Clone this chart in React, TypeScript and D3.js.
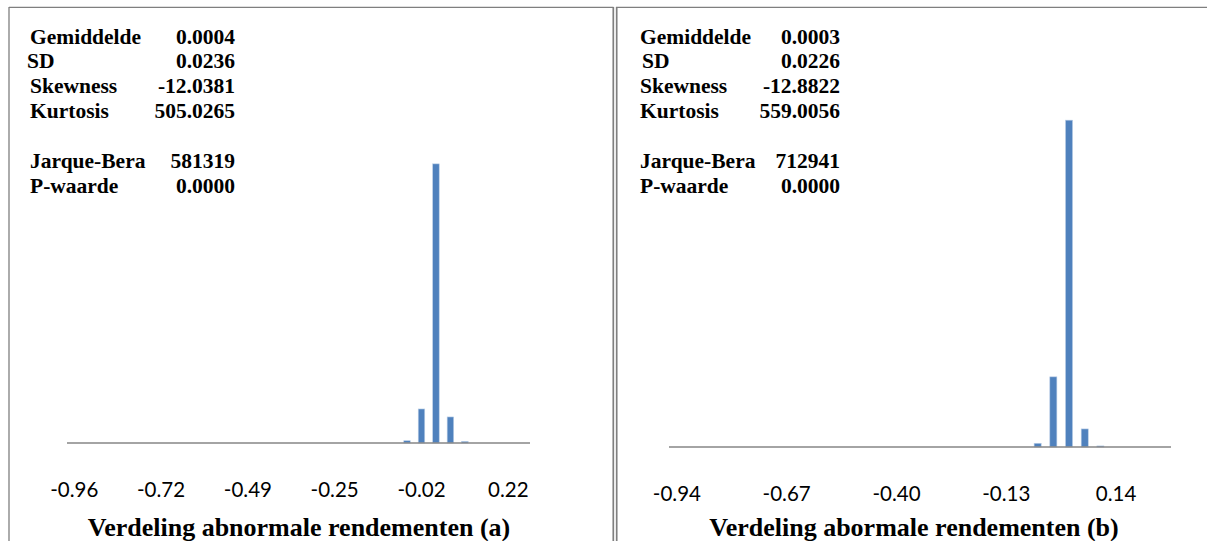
import React from "react";
import * as d3 from "d3";

// ---------- DATA ----------
const binsA = ["-0.96","-0.92","-0.88","-0.84","-0.80","-0.76","-0.72","-0.68","-0.65","-0.61","-0.57","-0.53","-0.49","-0.45","-0.41","-0.37","-0.33","-0.29","-0.25","-0.21","-0.17","-0.13","-0.09","-0.06","-0.02","0.02","0.06","0.10","0.14","0.18","0.22","0.26"];
const countsA = [0,0,0,0,0,0,0,0,0,0,0,0,0,0,0,0,0,0,0,0,0,0,0,43,640,5250,490,30,0,0,0,0];

const binsB = ["-0.94","-0.90","-0.86","-0.82","-0.79","-0.75","-0.71","-0.67","-0.63","-0.59","-0.55","-0.52","-0.48","-0.44","-0.40","-0.36","-0.32","-0.28","-0.25","-0.21","-0.17","-0.13","-0.09","-0.05","-0.01","0.02","0.06","0.10","0.14","0.18","0.22","0.26"];
const countsB = [0,0,0,0,0,0,0,0,0,0,0,0,0,0,0,0,0,0,0,0,0,0,0,70,1320,6150,340,20,0,0,0,0];

const statLabels = ["Gemiddelde", "SD", "Skewness", "Kurtosis", "", "Jarque-Bera", "P-waarde"];
const statValuesA = ["0.0004", "0.0236", "-12.0381", "505.0265", "", "581319", "0.0000"];
const statValuesB = ["0.0003", "0.0226", "-12.8822", "559.0056", "", "712941", "0.0000"];

const titleA = "Verdeling abnormale rendementen (a)";
const titleB = "Verdeling abormale rendementen (b)";

// ---------- LAYOUT ----------
const W = 1207;
const H = 541;
const BAR = "#4F81BD";
const AXIS = "#868686";
const BORDER = "#7f7f7f";
const SERIF = "'Liberation Serif', 'Times New Roman', serif";

type PanelProps = {
  bins: string[];
  counts: number[];
  yMax: number;
  x0: number;
  x1: number;
  axisY: number;
  plotTop: number;
  tickEvery: number;
  values: string[];
  labelX: number;
  valueX: number;
  sdShift: number;
  title: string;
  titleX: number;
};

function Panel(p: PanelProps) {
  const x = d3.scaleBand<string>().domain(p.bins).range([p.x0, p.x1]).paddingInner(0.55).paddingOuter(0.275);
  const xc = d3.scaleBand<string>().domain(p.bins).range([p.x0, p.x1]);
  const y = d3.scaleLinear().domain([0, p.yMax]).range([p.axisY, p.plotTop]);
  const rowY = [44, 68, 93, 118, 143, 168, 193];
  return (
    <g>
      {statLabels.map((l, i) =>
        l ? (
          <g key={i}>
            <text x={p.labelX + (i === 1 ? p.sdShift : 0)} y={rowY[i]} fontFamily={SERIF} fontWeight="bold" fontSize={21.5} fill="#000">{l}</text>
            <text x={p.valueX} y={rowY[i]} textAnchor="end" fontFamily={SERIF} fontWeight="bold" fontSize={21.5} fill="#000">{p.values[i]}</text>
          </g>
        ) : null
      )}
      {p.bins.map((b, i) =>
        p.counts[i] > 0 ? (
          <rect key={b} x={x(b)} y={y(p.counts[i])} width={x.bandwidth()} height={p.axisY - y(p.counts[i])} fill={BAR} stroke="#b9cde6" strokeWidth={0.6} />
        ) : null
      )}
      <line x1={p.x0} x2={p.x1} y1={p.axisY} y2={p.axisY} stroke={AXIS} strokeWidth={1.6} />
      {p.bins.map((b, i) =>
        i % p.tickEvery === 0 ? (
          <text key={"t" + b} x={(xc(b) as number) + xc.bandwidth() / 2} y={p.axisY + 54} textAnchor="middle" fontFamily="Lato, 'Open Sans', sans-serif" fontSize={20.5} fill="#000">{b}</text>
        ) : null
      )}
      <text x={p.titleX} y={536} textAnchor="middle" fontFamily={SERIF} fontWeight="bold" fontSize={26} fill="#000">{p.title}</text>
    </g>
  );
}

export default function App() {
  return (
    <svg width={W} height={H} style={{ position: "absolute", left: 0, top: 0, background: "#fff" }}>
      <rect x={0} y={0} width={W} height={H} fill="#fff" />
      {/* table borders */}
      <line x1={9} x2={9} y1={7} y2={H} stroke={BORDER} strokeWidth={1.3} />
      <line x1={9} x2={613.5} y1={7.3} y2={7.3} stroke={BORDER} strokeWidth={1.3} />
      <line x1={613.3} x2={613.3} y1={7} y2={H} stroke={BORDER} strokeWidth={1.7} />
      <line x1={616.7} x2={616.7} y1={7} y2={H} stroke={BORDER} strokeWidth={1.7} />
      <line x1={616} x2={W} y1={7.3} y2={7.3} stroke={BORDER} strokeWidth={1.3} />
      <Panel bins={binsA} counts={countsA} yMax={6000} x0={67} x1={530} axisY={443} plotTop={124} tickEvery={6}
        values={statValuesA} labelX={30} valueX={235} sdShift={-3} title={titleA} titleX={299} />
      <Panel bins={binsB} counts={countsB} yMax={7000} x0={669} x1={1171} axisY={447} plotTop={75} tickEvery={7}
        values={statValuesB} labelX={640} valueX={840} sdShift={2} title={titleB} titleX={914} />
    </svg>
  );
}
